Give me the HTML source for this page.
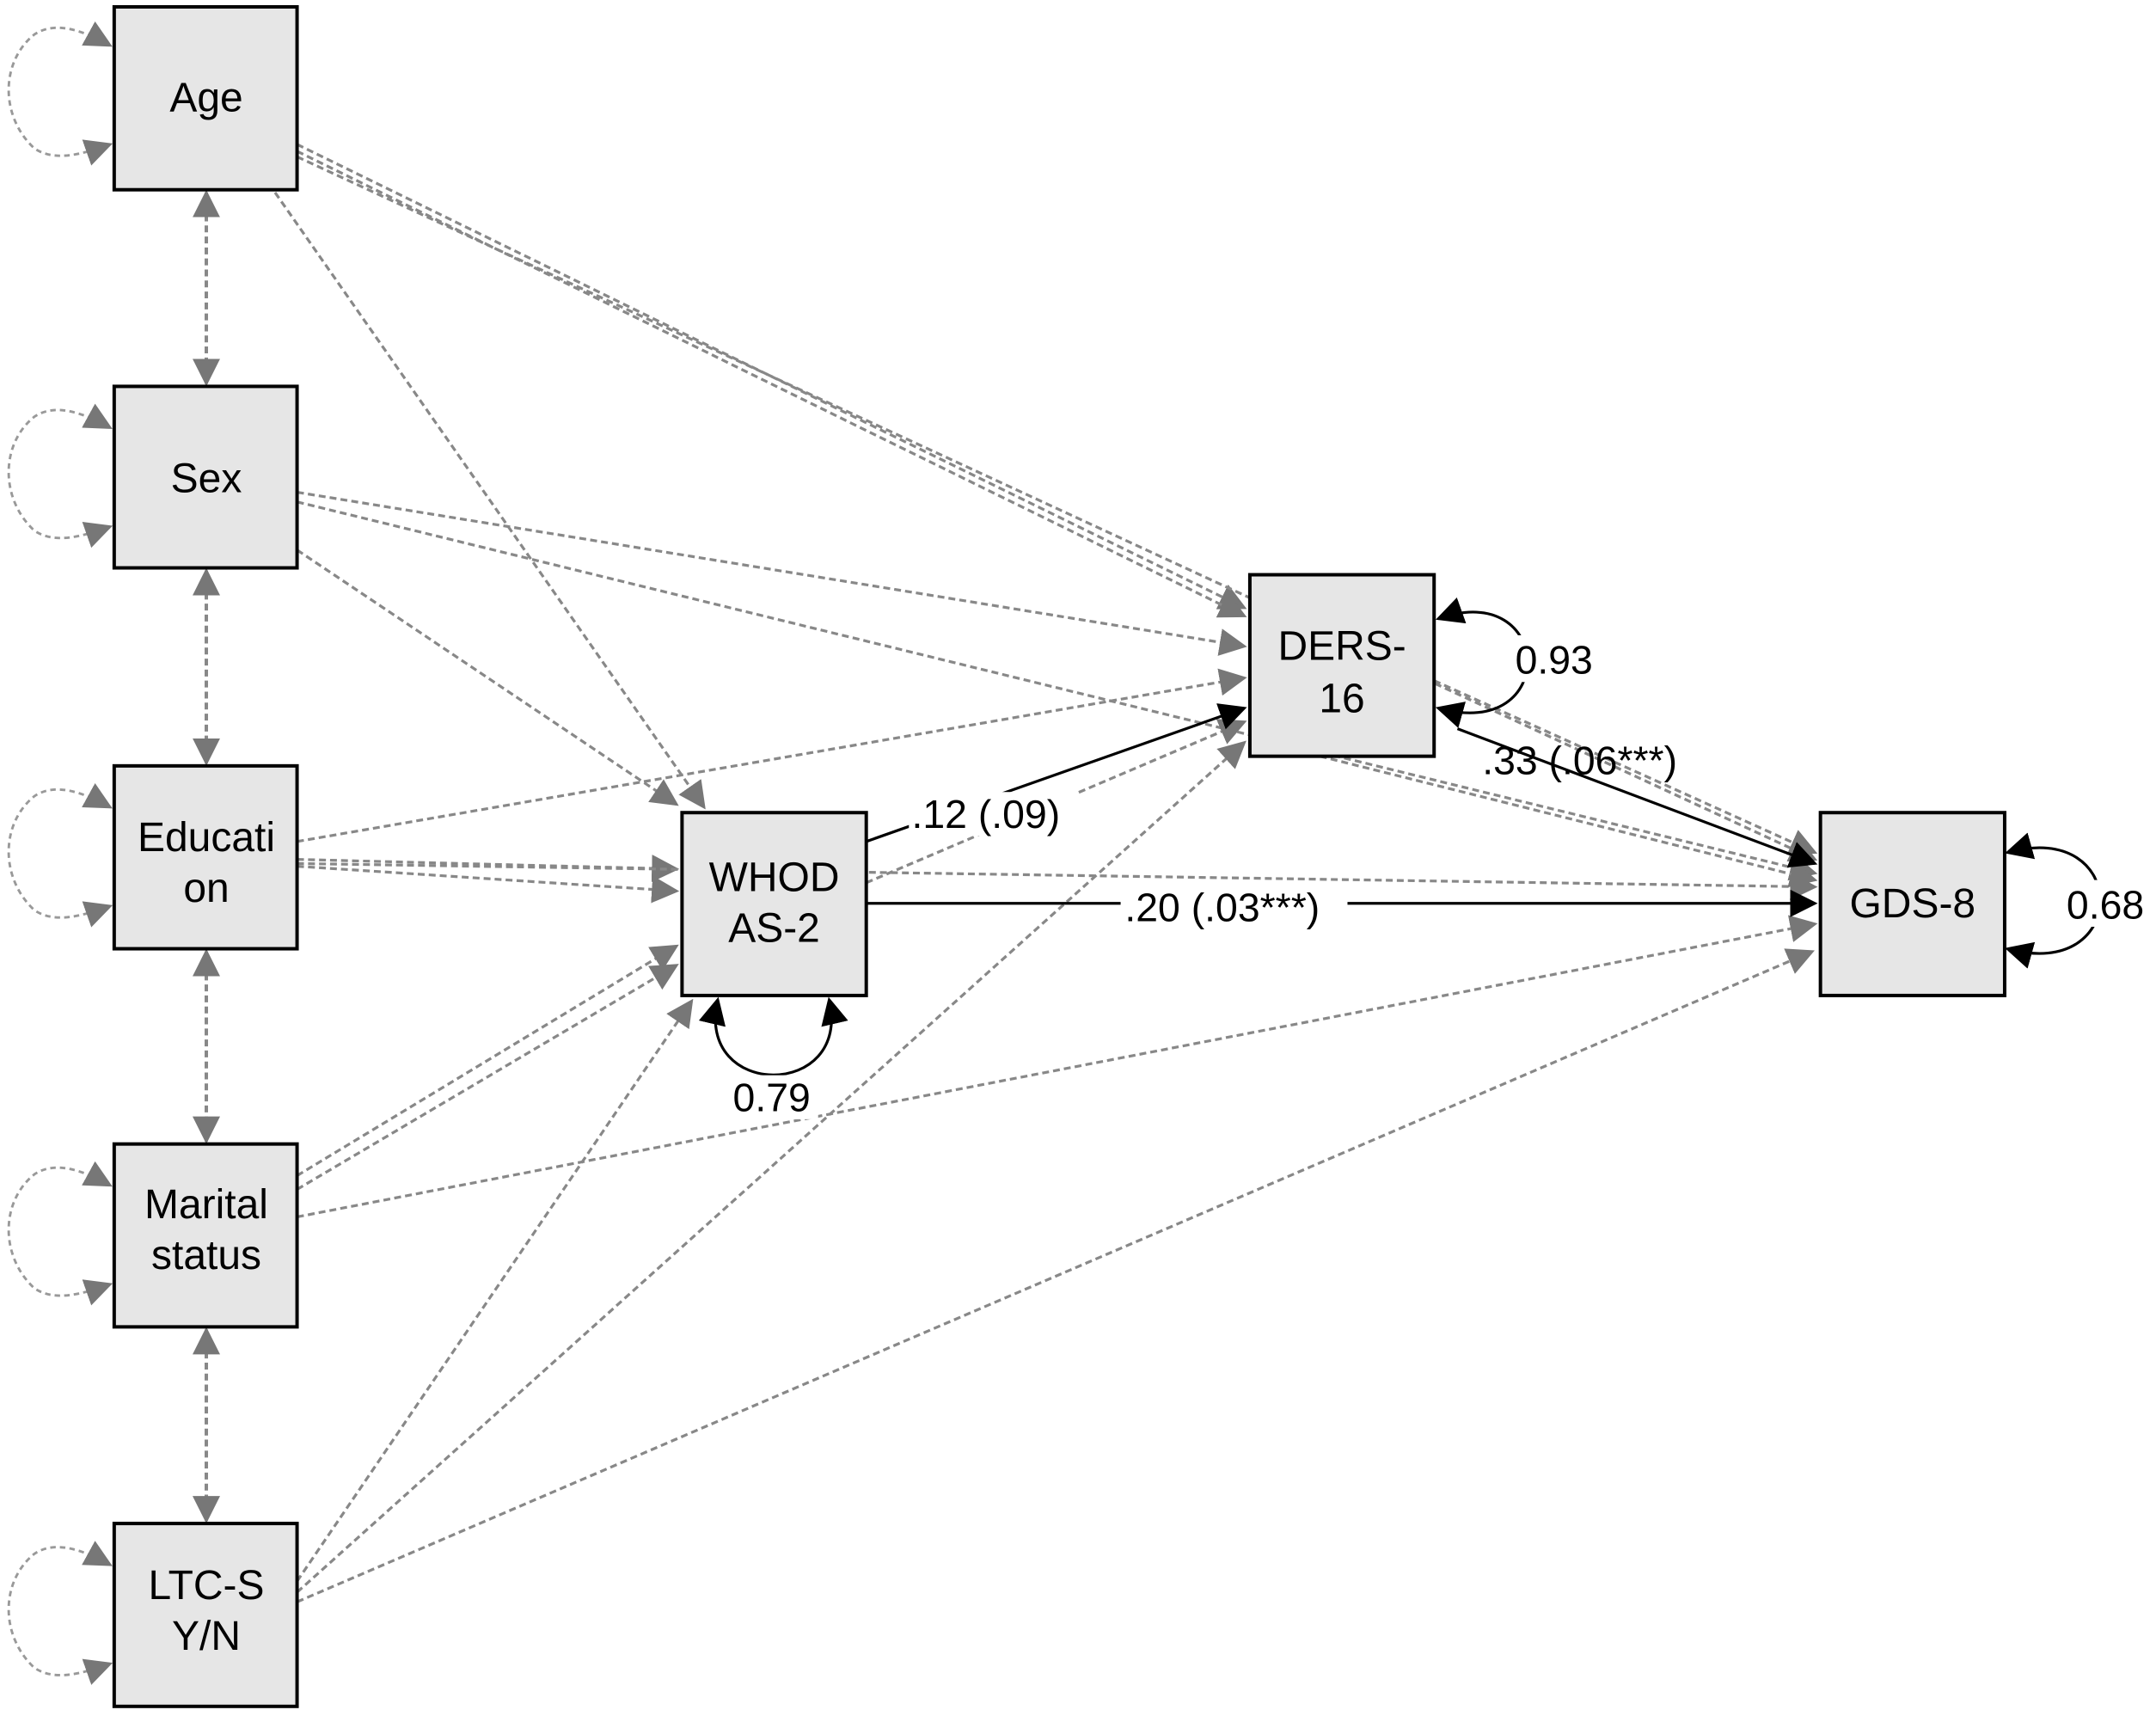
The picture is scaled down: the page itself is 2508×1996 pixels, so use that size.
<!DOCTYPE html>
<html><head><meta charset="utf-8"><style>
html,body{margin:0;padding:0;background:#fff;}
svg{display:block;}
text{font-family:"Liberation Sans",Arial,sans-serif;}
</style></head><body>
<svg width="2508" height="1996" viewBox="0 0 1568 1248" xmlns="http://www.w3.org/2000/svg">
<defs>
<marker id="gb" viewBox="0 0 10 10" refX="9" refY="5" markerWidth="20" markerHeight="20" orient="auto-start-reverse" markerUnits="userSpaceOnUse"><path d="M0,0 L10,5 L0,10 z" fill="#777"/></marker>
<marker id="k" viewBox="0 0 10 10" refX="9" refY="5" markerWidth="20" markerHeight="20" orient="auto-start-reverse" markerUnits="userSpaceOnUse"><path d="M0,0 L10,5 L0,10 z" fill="#000"/></marker>
</defs>
<g fill="none" stroke="#888" stroke-width="2" stroke-dasharray="5,3" marker-end="url(#gb)">
<line x1="216" y1="105" x2="905" y2="442"/>
<line x1="216" y1="110" x2="905" y2="448"/>
<line x1="216" y1="114" x2="1320" y2="625"/>
<line x1="200" y1="140" x2="512" y2="587"/>
<line x1="216" y1="358" x2="905" y2="470"/>
<line x1="216" y1="365" x2="1320" y2="635"/>
<line x1="216" y1="400" x2="492" y2="585"/>
<line x1="216" y1="612" x2="905" y2="493"/>
<line x1="216" y1="625" x2="492" y2="632"/>
<line x1="216" y1="630" x2="492" y2="648"/>
<line x1="216" y1="628" x2="1320" y2="645"/>
<line x1="216" y1="855" x2="492" y2="688"/>
<line x1="216" y1="865" x2="492" y2="702"/>
<line x1="216" y1="885" x2="1320" y2="672"/>
<line x1="216" y1="1150" x2="503" y2="728"/>
<line x1="216" y1="1158" x2="905" y2="540"/>
<line x1="216" y1="1165" x2="1318" y2="692"/>
<line x1="630" y1="642" x2="905" y2="525"/>
<line x1="1043" y1="495" x2="1320" y2="620"/>
<line x1="960" y1="550" x2="1320" y2="640"/>
</g>
<g fill="none" stroke="#888" stroke-width="2.5" stroke-dasharray="5,3" marker-start="url(#gb)" marker-end="url(#gb)">
<line x1="150" y1="140" x2="150" y2="279"/>
<line x1="150" y1="415" x2="150" y2="555"/>
<line x1="150" y1="692" x2="150" y2="830"/>
<line x1="150" y1="967" x2="150" y2="1106"/>
</g>
<g fill="none" stroke="#999" stroke-width="1.8" stroke-dasharray="4,3" marker-start="url(#gb)" marker-end="url(#gb)">
<path d="M80,33 C60,22 40,15 25,25 C0,45 0,85 25,108 C40,118 60,112 80,105"/>
<path d="M80,311 C60,300 40,293 25,303 C0,323 0,363 25,386 C40,396 60,390 80,383"/>
<path d="M80,587 C60,576 40,569 25,579 C0,599 0,639 25,662 C40,672 60,666 80,659"/>
<path d="M80,862 C60,851 40,844 25,854 C0,874 0,914 25,937 C40,947 60,941 80,934"/>
<path d="M80,1138 C60,1127 40,1120 25,1130 C0,1150 0,1190 25,1213 C40,1223 60,1217 80,1210"/>
</g>
<g fill="none" stroke="#000" stroke-width="2" marker-end="url(#k)">
<line x1="630" y1="612" x2="905" y2="515"/>
<line x1="630" y1="657" x2="1320" y2="657"/>
<line x1="1060" y1="530" x2="1320" y2="628"/>
</g>
<g fill="none" stroke="#000" stroke-width="2" marker-start="url(#k)" marker-end="url(#k)">
<path d="M1046,450 C1130,420 1135,540 1046,515"/>
<path d="M1460,620 C1550,595 1550,715 1460,690"/>
<path d="M522,727 C505,800 620,800 603,727"/>
</g>
<g fill="#e6e6e6" stroke="#000" stroke-width="2.5">
<rect x="83" y="5" width="133" height="133"/>
<rect x="83" y="281" width="133" height="132"/>
<rect x="83" y="557" width="133" height="133"/>
<rect x="83" y="832" width="133" height="133"/>
<rect x="83" y="1108" width="133" height="133"/>
<rect x="496" y="591" width="134" height="133"/>
<rect x="909" y="418" width="134" height="132"/>
<rect x="1324" y="591" width="134" height="133"/>
</g>
<g font-size="30" text-anchor="middle" fill="#000">
<text x="150" y="81">Age</text>
<text x="150" y="358">Sex</text>
<text x="150" y="619">Educati</text>
<text x="150" y="656">on</text>
<text x="150" y="886">Marital</text>
<text x="150" y="923">status</text>
<text x="150" y="1163">LTC-S</text>
<text x="150" y="1200">Y/N</text>
<text x="563" y="648">WHOD</text>
<text x="563" y="685">AS-2</text>
<text x="976" y="480">DERS-</text>
<text x="976" y="518">16</text>
<text x="1391" y="667">GDS-8</text>
</g>
<g fill="#fff">
<rect x="815" y="643" width="165" height="32"/>
<rect x="1100" y="462" width="66" height="34"/>
<rect x="1502" y="640" width="64" height="34"/>
<rect x="531" y="782" width="64" height="32"/>
<rect x="661" y="576" width="122" height="32"/>
</g>
<g font-size="29" fill="#000">
<text x="818" y="670">.20 (.03***)</text>
<text x="663" y="602">.12 (.09)</text>
<text x="1078" y="563">.33 (.06***)</text>
<text x="1102" y="490">0.93</text>
<text x="1503" y="668">0.68</text>
<text x="533" y="808">0.79</text>
</g>
</svg>
</body></html>
